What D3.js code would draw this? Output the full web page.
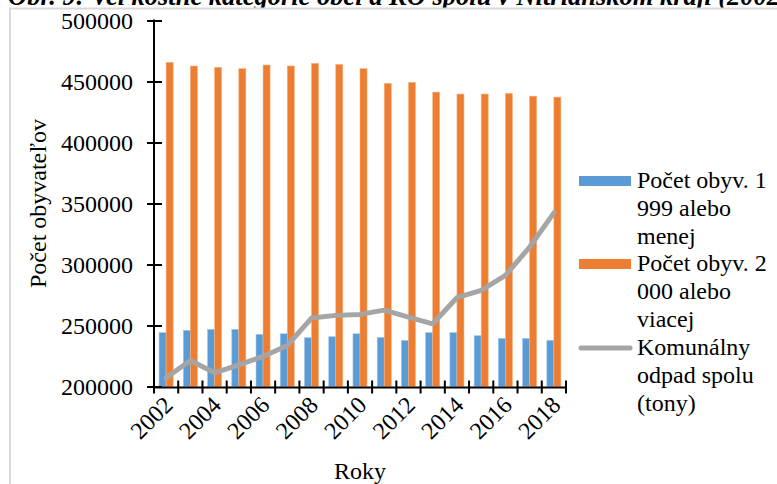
<!DOCTYPE html>
<html><head><meta charset="utf-8">
<script src="https://cdn.jsdelivr.net/npm/d3@7"></script>
<style>
html,body{margin:0;padding:0;background:#fff;}
svg{display:block;}
text{font-family:"Liberation Serif","Times New Roman",serif;}
</style></head>
<body><svg id="c" width="777" height="484"></svg>
<script>
const years = [2002,2003,2004,2005,2006,2007,2008,2009,2010,2011,2012,2013,2014,2015,2016,2017,2018];
const small = [244100,246000,246800,246800,242700,243200,240000,240800,243200,240200,237800,244100,244100,241600,239400,239400,237800];
const large = [465700,462700,461600,460500,463500,462700,464900,463900,460500,448500,449300,441300,439700,439700,440300,438000,437200];
const waste = [207100,221300,211200,217800,224600,233600,256100,258300,259100,262600,256900,251400,272800,278800,291100,314300,342300];
const yTicks = [200000,250000,300000,350000,400000,450000,500000];
const xLabels = [2002,2004,2006,2008,2010,2012,2014,2016,2018];
const seriesNames = [["Počet obyv. 1","999 alebo","menej"],["Počet obyv. 2","000 alebo","viacej"],["Komunálny","odpad spolu","(tony)"]];
const colors = ["#5B9BD5","#ED7D31","#A5A5A5"];
const FF = "Liberation Serif, Times New Roman, serif";

const svg = d3.select("#c");
const L = 154, R = 566, T = 20.5, B = 386.5;
const x = d3.scaleBand().domain(years).range([L,R]);
const y = d3.scaleLinear().domain([200000,500000]).range([B,T]);

// title (cut off at top by the page edge and frame)
svg.append("clipPath").attr("id","tc").append("rect").attr("x",0).attr("y",0).attr("width",777).attr("height",8);
svg.append("text").attr("clip-path","url(#tc)").attr("x",8).attr("y",5).attr("font-size",26.5)
  .attr("font-family",FF).attr("font-weight","bold").attr("font-style","italic")
  .text("Obr. 9: Veľkostné kategórie obcí a KO spolu v Nitrianskom kraji (2002-2018)");
// frame
svg.append("path").attr("d","M10,484 V8.5 H777").attr("fill","none").attr("stroke","#d9d9d9").attr("stroke-width",2);

const bw = x.bandwidth()*0.29;
const g = svg.append("g");
g.selectAll("rect.s").data(years).join("rect")
  .attr("x",d=>x(d)+x.bandwidth()/2-bw).attr("width",bw)
  .attr("y",(d,i)=>y(small[i])).attr("height",(d,i)=>B-y(small[i]))
  .attr("fill",colors[0]).attr("stroke","#9cc3e6").attr("stroke-width",0.6);
g.selectAll("rect.l").data(years).join("rect")
  .attr("x",d=>x(d)+x.bandwidth()/2).attr("width",bw)
  .attr("y",(d,i)=>y(large[i])).attr("height",(d,i)=>B-y(large[i]))
  .attr("fill",colors[1]).attr("stroke","#f4b183").attr("stroke-width",0.6);

const line = d3.line().x((d,i)=>x(years[i])+x.bandwidth()/2).y(d=>y(d));
svg.append("path").attr("d",line(waste)).attr("fill","none").attr("stroke",colors[2])
  .attr("stroke-width",5).attr("stroke-linejoin","round").attr("stroke-linecap","round");

// y axis
const ya = svg.append("g").attr("transform",`translate(${L},0)`)
  .call(d3.axisLeft(y).tickValues(yTicks).tickFormat(d3.format("d")).tickSize(7).tickPadding(14));
ya.attr("font-family",FF);
ya.select(".domain").remove();
ya.selectAll(".tick line").attr("x1",-7).attr("x2",8).attr("stroke","#000").attr("stroke-width",2);
ya.selectAll("text").attr("font-size",24).attr("font-family",FF).attr("fill","#000").attr("dy","0.34em");
svg.append("line").attr("x1",L).attr("x2",L).attr("y1",T-1).attr("y2",B+1).attr("stroke","#000").attr("stroke-width",2);

// x axis
svg.append("line").attr("x1",L-1).attr("x2",R+1).attr("y1",B+1).attr("y2",B+1).attr("stroke","#000").attr("stroke-width",2);
const bounds = years.map(d=>x(d)).concat([R]);
svg.selectAll("line.xt").data(bounds).join("line")
  .attr("x1",d=>d).attr("x2",d=>d).attr("y1",B-6).attr("y2",B+7).attr("stroke","#000").attr("stroke-width",2);
svg.selectAll("text.xl").data(xLabels).join("text")
  .attr("font-size",24).attr("font-family",FF).attr("text-anchor","end")
  .attr("transform",d=>`translate(${x(d)+x.bandwidth()/2+8},${B+20}) rotate(-45)`)
  .text(d=>d);

// axis titles
svg.append("text").attr("transform",`translate(46,${(T+B)/2}) rotate(-90)`).attr("text-anchor","middle")
  .attr("font-size",24).attr("font-family",FF).text("Počet obyvateľov");
svg.append("text").attr("x",360).attr("y",479).attr("text-anchor","middle").attr("font-size",24).attr("font-family",FF).text("Roky");

// legend
const lg = svg.append("g");
const base = [188,271,355];
seriesNames.forEach((lines,i)=>{
  const cy = base[i]-7;
  if(i<2){
    lg.append("rect").attr("x",579).attr("y",cy-5).attr("width",52).attr("height",10).attr("fill",colors[i]);
  } else {
    lg.append("line").attr("x1",581).attr("x2",630).attr("y1",cy).attr("y2",cy).attr("stroke",colors[i])
      .attr("stroke-width",5).attr("stroke-linecap","round");
  }
  lines.forEach((t,j)=>{
    lg.append("text").attr("x",637).attr("y",base[i]+j*27.8).attr("font-size",24).attr("font-family",FF).text(t);
  });
});
</script></body></html>
